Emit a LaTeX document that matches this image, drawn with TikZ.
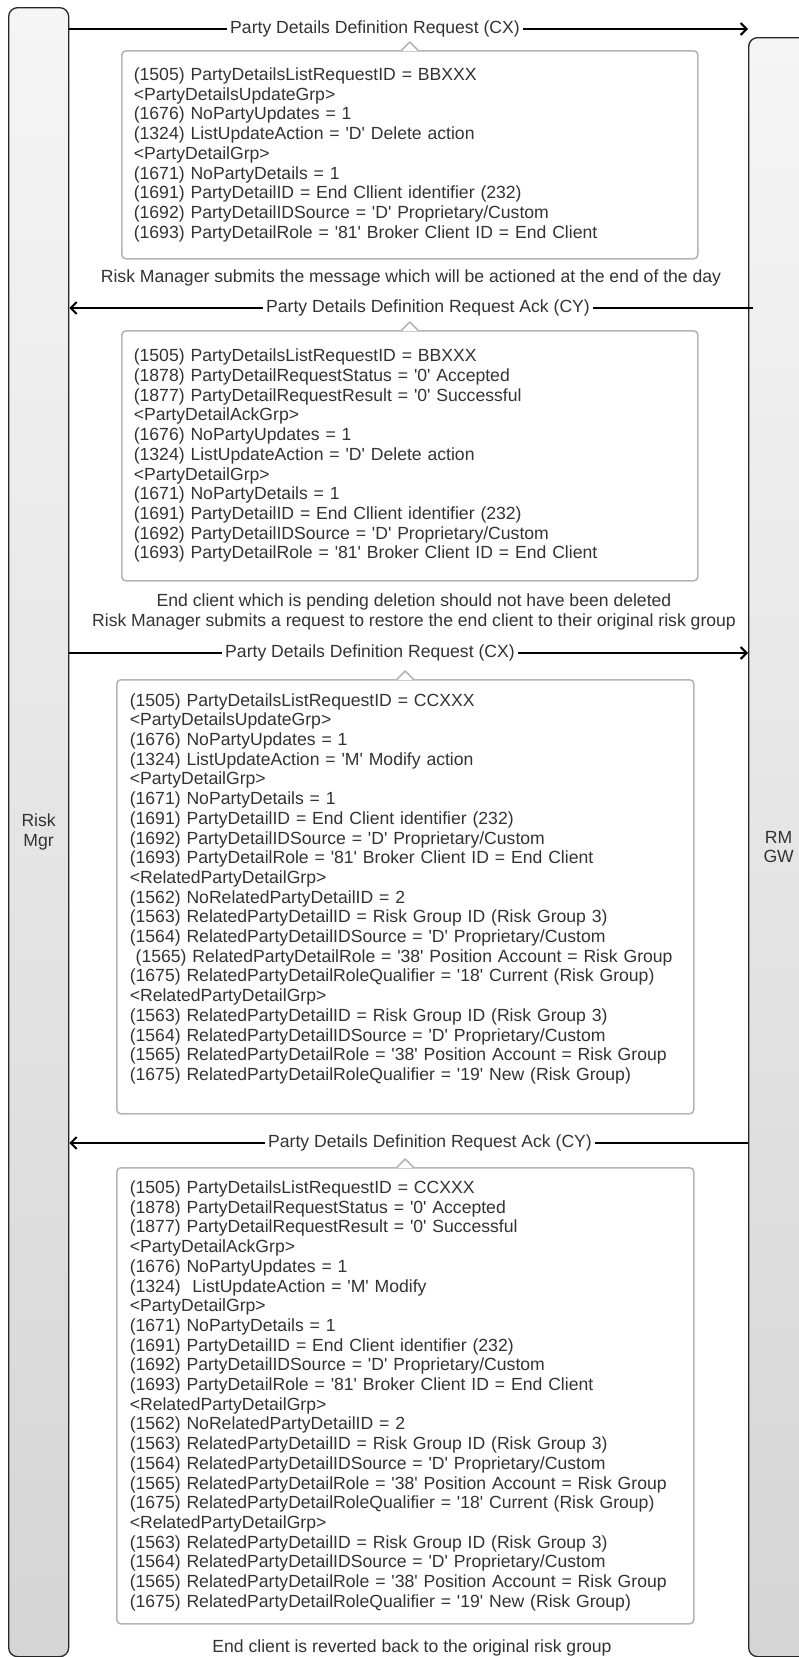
\documentclass[tikz,border=0pt]{standalone}
\usepackage{fontspec}
\newfontfamily\diagfont{Liberation Sans}
\usetikzlibrary{arrows.meta}
\definecolor{txtgray}{HTML}{333333}
\definecolor{boxgray}{HTML}{B5B5B5}
\definecolor{bartop}{HTML}{F5F5F5}
\definecolor{barbot}{HTML}{D5D5D5}

\begin{document}
\begin{tikzpicture}[x=1pt, y=-1pt]
\tikzstyle{every node}=[font=\diagfont\fontsize{17.6}{19.7}\selectfont, text=txtgray]
\tikzstyle{lifeline}=[draw=black!85, line width=1.3pt, rounded corners=9pt, top color=bartop, bottom color=barbot, minimum width=60pt, anchor=north west, align=center, inner sep=0pt]
\tikzstyle{msglabel}=[fill=white, inner xsep=3pt, inner ysep=1pt]
\tikzstyle{msgline}=[line width=2pt, black]
\tikzstyle{msgarrow}=[line width=2pt, black, -{Straight Barb[length=6pt, width=12pt, line width=2pt]}]
\tikzstyle{fixbox}=[draw=boxgray, line width=1.6pt, rounded corners=4pt, fill=white, anchor=north west, align=left, inner xsep=12pt, inner ysep=0pt, text width=552pt]
\tikzstyle{notch}=[draw=boxgray, line width=1.6pt, line join=round]
\tikzstyle{note}=[align=center]

\useasboundingbox (0,0) rectangle (798,1657);

% lifelines
\node[lifeline, minimum height=1649pt] (Lmgr) at (8,7) {Risk\\Mgr};
\node[lifeline, minimum height=1619pt] (Rgw) at (748,37) {RM\\GW};

% first request
\node[msglabel] (M1) at (375,29) {Party Details Definition Request (CX)};
\draw[msgline] (Lmgr.east |- M1) -- (M1.west);
\draw[msgarrow] (M1.east) -- (Rgw.west |- M1);
\node[fixbox, minimum height=208pt] (B1) at (121,50) {(1505) PartyDetailsListRequestID = BBXXX\\
<PartyDetailsUpdateGrp>\\
(1676) NoPartyUpdates = 1\\
(1324) ListUpdateAction = 'D' Delete action\\
<PartyDetailGrp>\\
(1671) NoPartyDetails = 1\\
(1691) PartyDetailID = End Cllient identifier (232)\\
(1692) PartyDetailIDSource = 'D' Proprietary/Custom\\
(1693) PartyDetailRole = '81' Broker Client ID = End Client};
\node[note] (N1) at (411,278) {Risk Manager submits the message which will be actioned at the end of the day};

% first ack
\node[msglabel] (M2) at (428,308) {Party Details Definition Request Ack (CY)};
\draw[msgline] ([xshift=5pt]Rgw.west |- M2) -- (M2.east);
\draw[msgarrow] (M2.west) -- (Lmgr.east |- M2);
\node[fixbox, minimum height=250pt] (B2) at (121,330) {(1505) PartyDetailsListRequestID = BBXXX\\
(1878) PartyDetailRequestStatus = '0' Accepted\\
(1877) PartyDetailRequestResult = '0' Successful\\
<PartyDetailAckGrp>\\
(1676) NoPartyUpdates = 1\\
(1324) ListUpdateAction = 'D' Delete action\\
<PartyDetailGrp>\\
(1671) NoPartyDetails = 1\\
(1691) PartyDetailID = End Cllient identifier (232)\\
(1692) PartyDetailIDSource = 'D' Proprietary/Custom\\
(1693) PartyDetailRole = '81' Broker Client ID = End Client};
\node[note] (N2) at (414,612) {End client which is pending deletion should not have been deleted\\
Risk Manager submits a request to restore the end client to their original risk group};

% second request
\node[msglabel] (M3) at (370,653) {Party Details Definition Request (CX)};
\draw[msgline] (Lmgr.east |- M3) -- (M3.west);
\draw[msgarrow] (M3.east) -- (Rgw.west |- M3);
\node[fixbox, minimum height=434pt, inner xsep=13pt, text width=551pt] (B3) at (116,679) {(1505) PartyDetailsListRequestID = CCXXX\\
<PartyDetailsUpdateGrp>\\
(1676) NoPartyUpdates = 1\\
(1324) ListUpdateAction = 'M' Modify action\\
<PartyDetailGrp>\\
(1671) NoPartyDetails = 1\\
(1691) PartyDetailID = End Client identifier (232)\\
(1692) PartyDetailIDSource = 'D' Proprietary/Custom\\
(1693) PartyDetailRole = '81' Broker Client ID = End Client\\
<RelatedPartyDetailGrp>\\
(1562) NoRelatedPartyDetailID = 2\\
(1563) RelatedPartyDetailID = Risk Group ID (Risk Group 3)\\
(1564) RelatedPartyDetailIDSource = 'D' Proprietary/Custom\\
\ (1565) RelatedPartyDetailRole = '38' Position Account = Risk Group\\
(1675) RelatedPartyDetailRoleQualifier = '18' Current (Risk Group)\\
<RelatedPartyDetailGrp>\\
(1563) RelatedPartyDetailID = Risk Group ID (Risk Group 3)\\
(1564) RelatedPartyDetailIDSource = 'D' Proprietary/Custom\\
(1565) RelatedPartyDetailRole = '38' Position Account = Risk Group\\
(1675) RelatedPartyDetailRoleQualifier = '19' New (Risk Group)\\
\mbox{}};

% second ack
\node[msglabel] (M4) at (430,1143) {Party Details Definition Request Ack (CY)};
\draw[msgline] (Rgw.west |- M4) -- (M4.east);
\draw[msgarrow] (M4.west) -- (Lmgr.east |- M4);
\node[fixbox, minimum height=456pt, inner xsep=13pt, text width=551pt] (B4) at (116,1167) {(1505) PartyDetailsListRequestID = CCXXX\\
(1878) PartyDetailRequestStatus = '0' Accepted\\
(1877) PartyDetailRequestResult = '0' Successful\\
<PartyDetailAckGrp>\\
(1676) NoPartyUpdates = 1\\
(1324) \ ListUpdateAction = 'M' Modify\\
<PartyDetailGrp>\\
(1671) NoPartyDetails = 1\\
(1691) PartyDetailID = End Client identifier (232)\\
(1692) PartyDetailIDSource = 'D' Proprietary/Custom\\
(1693) PartyDetailRole = '81' Broker Client ID = End Client\\
<RelatedPartyDetailGrp>\\
(1562) NoRelatedPartyDetailID = 2\\
(1563) RelatedPartyDetailID = Risk Group ID (Risk Group 3)\\
(1564) RelatedPartyDetailIDSource = 'D' Proprietary/Custom\\
(1565) RelatedPartyDetailRole = '38' Position Account = Risk Group\\
(1675) RelatedPartyDetailRoleQualifier = '18' Current (Risk Group)\\
<RelatedPartyDetailGrp>\\
(1563) RelatedPartyDetailID = Risk Group ID (Risk Group 3)\\
(1564) RelatedPartyDetailIDSource = 'D' Proprietary/Custom\\
(1565) RelatedPartyDetailRole = '38' Position Account = Risk Group\\
(1675) RelatedPartyDetailRoleQualifier = '19' New (Risk Group)};
\node[note] (N3) at (412,1648) {End client is reverted back to the original risk group};

% callout notches
\foreach \b in {B1,B2,B3,B4} {
  \fill[white] ([xshift=-7pt,yshift=-1pt]\b.north) rectangle ([xshift=7pt,yshift=1pt]\b.north);
  \draw[notch] ([xshift=-8pt]\b.north) -- ++(8,-8) -- ++(8,8);
}
\end{tikzpicture}
\end{document}
